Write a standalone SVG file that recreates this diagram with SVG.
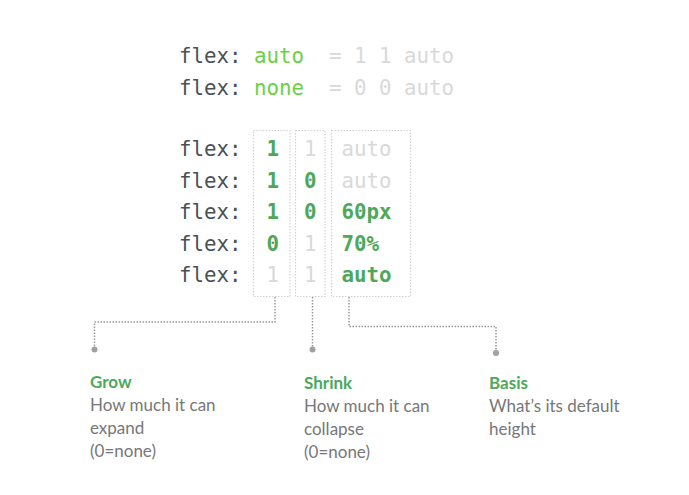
<svg xmlns="http://www.w3.org/2000/svg" width="689" height="495" viewBox="0 0 689 495">
<style>
.code{font-family:"DejaVu Sans Mono","Liberation Mono",monospace;font-size:20.8px}
.kw{fill:#4b4f56}
.lg{fill:#6ad147}
.g{fill:#4ea85b;font-weight:bold}
.f{fill:#d9d9d9}
.box{fill:none;stroke:#d2d2d2;stroke-width:1.2;stroke-dasharray:1.5 1.5}
.con{fill:none;stroke:#9a9a9a;stroke-width:1.5;stroke-dasharray:1.5 1.5}
.dot{fill:#a0a0a0}
.lbl{font-family:"Lato","Noto Sans",sans-serif;font-size:17px}
.t{fill:#4ea85b;font-weight:bold}
.d{fill:#777777}
</style>
<rect width="689" height="495" fill="#ffffff"/>
<g id="top-lines" class="code">
<text class="kw" x="179" y="63">flex:</text><text class="lg" x="254" y="63">auto</text><text class="f" x="329" y="63">=</text><text class="f" x="354" y="63">1</text><text class="f" x="379" y="63">1</text><text class="f" x="404" y="63">auto</text>
<text class="kw" x="179" y="95">flex:</text><text class="lg" x="254" y="95">none</text><text class="f" x="329" y="95">=</text><text class="f" x="354" y="95">0</text><text class="f" x="379" y="95">0</text><text class="f" x="404" y="95">auto</text>
</g>
<g id="table" class="code">
<text class="kw" x="179" y="156">flex:</text><text class="g" x="266.5" y="156">1</text><text class="f" x="304" y="156">1</text><text class="f" x="341.5" y="156">auto</text>
<text class="kw" x="179" y="188">flex:</text><text class="g" x="266.5" y="188">1</text><text class="g" x="304" y="188">0</text><text class="f" x="341.5" y="188">auto</text>
<text class="kw" x="179" y="219">flex:</text><text class="g" x="266.5" y="219">1</text><text class="g" x="304" y="219">0</text><text class="g" x="341.5" y="219">60px</text>
<text class="kw" x="179" y="251">flex:</text><text class="g" x="266.5" y="251">0</text><text class="f" x="304" y="251">1</text><text class="g" x="341.5" y="251">70%</text>
<text class="kw" x="179" y="282">flex:</text><text class="f" x="266.5" y="282">1</text><text class="f" x="304" y="282">1</text><text class="g" x="341.5" y="282">auto</text>
</g>
<g id="grow-box"><rect class="box" x="253.5" y="130.5" width="36.5" height="166"/></g>
<g id="shrink-box"><rect class="box" x="295.5" y="130.5" width="29.5" height="166"/></g>
<g id="basis-box"><rect class="box" x="331.5" y="130.5" width="79" height="166"/></g>
<g id="connectors">
<polyline class="con" points="275,297 275,322 94.5,322 94.5,349"/>
<polyline class="con" points="312.5,297 312.5,349"/>
<polyline class="con" points="349,297 349,326.5 496,326.5 496,353"/>
<circle class="dot" cx="94.5" cy="349.5" r="3"/>
<circle class="dot" cx="312.5" cy="349.5" r="3"/>
<circle class="dot" cx="496" cy="353" r="3"/>
</g>
<g id="grow-label" class="lbl">
<text class="t" x="90" y="388">Grow</text>
<text class="d" x="90" y="411">How much it can</text>
<text class="d" x="90" y="434">expand</text>
<text class="d" x="90" y="457">(0=none)</text>
</g>
<g id="shrink-label" class="lbl">
<text class="t" x="304" y="389">Shrink</text>
<text class="d" x="304" y="412">How much it can</text>
<text class="d" x="304" y="435">collapse</text>
<text class="d" x="304" y="458">(0=none)</text>
</g>
<g id="basis-label" class="lbl">
<text class="t" x="489" y="389">Basis</text>
<text class="d" x="489" y="412">What’s its default</text>
<text class="d" x="489" y="435">height</text>
</g>
</svg>
